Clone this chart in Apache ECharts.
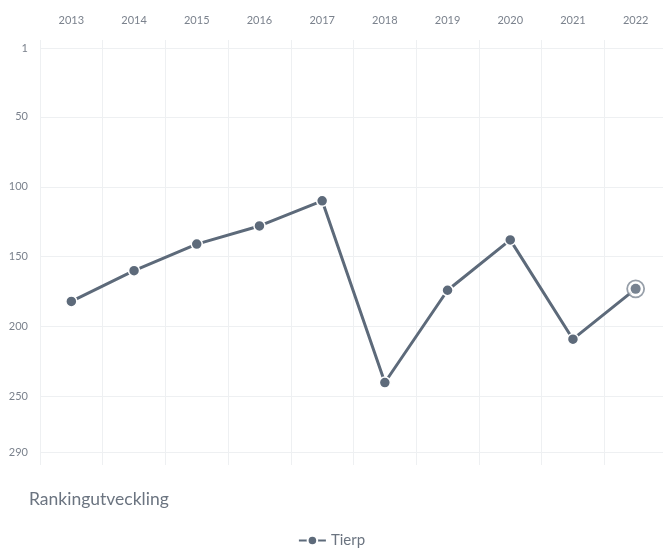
<!DOCTYPE html>
<html>
<head>
<meta charset="utf-8">
<script src="https://cdn.jsdelivr.net/npm/echarts@6/dist/echarts.min.js"></script>
<style>
html,body{margin:0;padding:0;background:#fff;}
#c{width:663px;height:554px;}
</style>
</head>
<body>
<div id="c"></div>
<script>
const years = ['2013','2014','2015','2016','2017','2018','2019','2020','2021','2022'];
const tierp = [182, 160, 141, 128, 110, 240, 174, 138, 209, 173];
const yTicks = [1, 50, 100, 150, 200, 250, 290];
const seriesName = 'Tierp';
const chartTitle = 'Rankingutveckling';

const lastIdx = tierp.length - 1;
const highlight = tierp.map((v, i) => i === lastIdx ? v : null);

const col = '#5d6a7a';
const font = 'Lato, "Noto Sans", sans-serif';
const chart = echarts.init(document.getElementById('c'));
chart.setOption({
  animation: false,
  textStyle: { fontFamily: font },
  title: {
    text: chartTitle,
    left: 24,
    top: 485,
    textStyle: { fontSize: 17.5, fontWeight: 'normal', color: '#6b7480', fontFamily: font }
  },
  legend: {
    data: [seriesName],
    bottom: 1,
    left: 'center',
    itemWidth: 27,
    itemHeight: 12,
    itemGap: 6,
    textStyle: { fontSize: 15, color: '#6b7480', fontFamily: font }
  },
  grid: { left: 40, width: 627, top: 40, bottom: 89, outerBoundsMode: 'none', containLabel: false },
  xAxis: {
    type: 'category',
    position: 'top',
    data: years,
    boundaryGap: true,
    axisLine: { show: false },
    axisTick: { show: false },
    axisLabel: { color: '#7b828d', fontSize: 11, margin: 14, fontFamily: font },
    splitLine: { show: true, lineStyle: { color: '#eef0f2', width: 1 } }
  },
  yAxis: {
    type: 'value',
    inverse: true,
    min: -5,
    max: 299,
    axisLine: { show: false },
    axisTick: { show: false, customValues: yTicks },
    axisLabel: { color: '#7b828d', fontSize: 11, margin: 12, customValues: yTicks, fontFamily: font },
    splitLine: { show: true, customValues: yTicks, lineStyle: { color: '#eef0f2', width: 1 } }
  },
  series: [
    {
      name: seriesName,
      type: 'line',
      data: tierp,
      symbol: 'circle',
      symbolSize: 11,
      lineStyle: { color: col, width: 3 },
      itemStyle: { color: col, borderColor: '#fff', borderWidth: 1.5 },
      z: 2
    },
    {
      name: 'ring',
      type: 'scatter',
      data: highlight,
      symbol: 'circle',
      symbolSize: 17,
      itemStyle: { color: '#fff', borderColor: '#7d8793', borderWidth: 1.8 },
      z: 3,
      silent: true
    },
    {
      name: 'dot',
      type: 'scatter',
      data: highlight,
      symbol: 'circle',
      symbolSize: 10,
      itemStyle: { color: col },
      z: 4,
      silent: true
    }
  ]
});
</script>
</body>
</html>
